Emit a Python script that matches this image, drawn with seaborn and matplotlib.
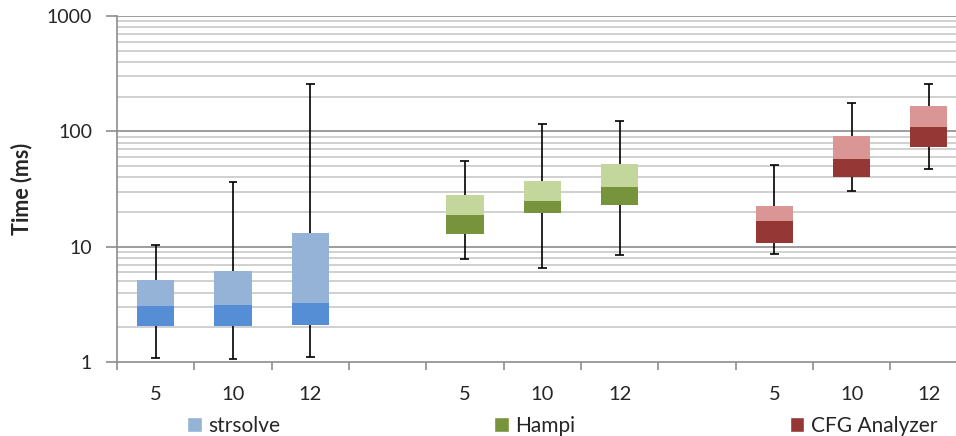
import numpy as np
import pandas as pd
import matplotlib
matplotlib.use("Agg")
import matplotlib.pyplot as plt
from matplotlib.patches import Patch
from matplotlib.ticker import FixedLocator, NullFormatter, FixedFormatter
import seaborn as sns

# data (ms, log scale)
tools = ["strsolve", "Hampi", "CFG Analyzer"]
sizes = ["5", "10", "12"]
lows = [1.08, 1.07, 1.10, 7.8, 6.5, 8.4, 8.6, 30.2, 47.2]
q1s = [2.06, 2.06, 2.09, 12.9, 19.7, 22.9, 10.8, 40.5, 73.7]
medians = [3.06, 3.12, 3.25, 18.8, 24.9, 32.9, 16.7, 57.6, 109]
q3s = [5.1, 6.15, 13.1, 27.9, 36.9, 52.1, 22.5, 91.2, 166]
highs = [10.35, 36.2, 258, 55.7, 116, 123, 51.1, 177, 259]

light = {"strsolve": "#95B3D7", "Hampi": "#C3D69B", "CFG Analyzer": "#D99694"}
dark = {"strsolve": "#558ED5", "Hampi": "#77933C", "CFG Analyzer": "#953735"}
legend_col = {"strsolve": "#95B3D7", "Hampi": "#77933C", "CFG Analyzer": "#953735"}

df = pd.DataFrame({
    "tool": np.repeat(tools, len(sizes)),
    "size": sizes * len(tools),
    "low": lows, "q1": q1s, "median": medians, "q3": q3s, "high": highs,
})
# one empty slot between groups
df["pos"] = [g * 4 + i for g in range(len(tools)) for i in range(len(sizes))]

sns.set_theme(style="white")
plt.rcParams["font.family"] = ["Lato", "DejaVu Sans"]

fig = plt.figure(figsize=(9.56, 4.36), dpi=100)
ax = fig.add_axes([117 / 956, 1 - 362 / 436, 1 - 117 / 956, (362 - 16) / 436])
ax.set_yscale("log")
ax.set_ylim(1, 1000)
ax.set_xlim(-0.5, 10.35)

# gridlines
for dec in [1, 10, 100]:
    for m in range(2, 10):
        ax.axhline(dec * m, color="#c4c4c4", lw=1.1, zorder=0)
for v in [10, 100, 1000]:
    ax.axhline(v, color="#8c8c8c", lw=1.2, zorder=0)

bw = 0.48
cap = 0.058
for _, r in df.iterrows():
    x = r["pos"]
    ax.vlines(x, r["low"], r["high"], color="black", lw=1.2, zorder=2)
    ax.hlines([r["low"], r["high"]], x - cap, x + cap, color="black", lw=1.2, zorder=2)
    ax.bar(x, r["median"] - r["q1"], bottom=r["q1"], width=bw,
           color=dark[r["tool"]], linewidth=0, zorder=3)
    ax.bar(x, r["q3"] - r["median"], bottom=r["median"], width=bw,
           color=light[r["tool"]], linewidth=0, zorder=3)

# y axis
ax.yaxis.set_major_locator(FixedLocator([1, 10, 100, 1000]))
ax.yaxis.set_major_formatter(FixedFormatter(["1", "10", "100", "1000"]))
ax.yaxis.set_minor_locator(FixedLocator([]))
ax.tick_params(axis="y", which="major", length=8, width=1.2, color="#8c8c8c",
               direction="out", pad=10, labelsize=14, left=True)
ax.set_ylabel("Time (ms)", fontsize=15.5, fontweight="bold", labelpad=10)

# x axis: labels at slot centres, tick marks at slot boundaries
ax.xaxis.set_major_locator(FixedLocator(df["pos"].tolist()))
ax.xaxis.set_major_formatter(FixedFormatter(df["size"].tolist()))
ax.xaxis.set_minor_locator(FixedLocator(np.arange(-0.5, 11, 1.0)))
ax.xaxis.set_minor_formatter(NullFormatter())
ax.tick_params(axis="x", which="major", length=0, pad=17, labelsize=14.5)
ax.tick_params(axis="x", which="minor", length=6, width=1.2, color="#8c8c8c",
               direction="out", bottom=True)

for s in ["top", "right"]:
    ax.spines[s].set_visible(False)
for s in ["left", "bottom"]:
    ax.spines[s].set_color("#8c8c8c")
    ax.spines[s].set_linewidth(1.2)

handles = [Patch(facecolor=legend_col[t], label=t) for t in tools]
fig.legend(handles=handles, loc="center", ncol=3, frameon=False, fontsize=15,
           bbox_to_anchor=(562 / 956, 1 - 426 / 436), handlelength=0.7,
           handleheight=0.7, handletextpad=0.3, columnspacing=10.3)

fig.savefig("out.png", dpi=100)
